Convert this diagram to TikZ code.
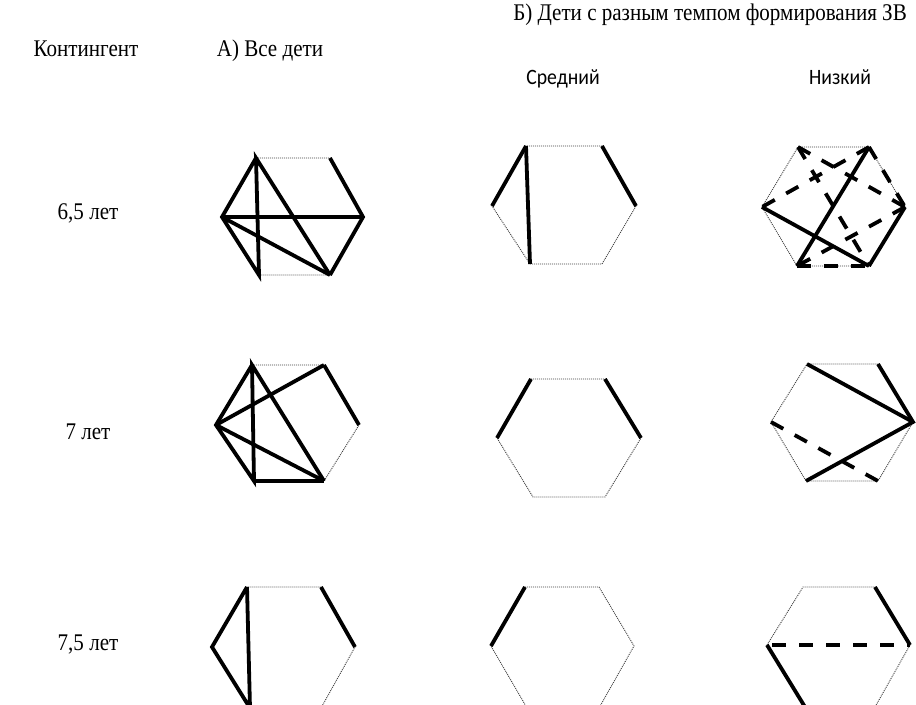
\documentclass[tikz,border=0pt]{standalone}
\usepackage{fontspec}
\setmainfont{Liberation Serif}
\newfontfamily\calib{Carlito}
\tikzset{
  edge/.style={line width=3.8bp, line cap=butt},
  dotedge/.style={line width=0.9bp, dash pattern=on 1bp off 1bp, black!75},
  dashedge/.style={line width=3.8bp, dash pattern=on 14bp off 13bp},
  lbl/.style={font=\fontsize{24}{28}\selectfont, inner sep=0pt, xscale=0.88},
  sublbl/.style={font=\calib\fontsize{22}{26}\selectfont, inner sep=0pt, xscale=0.9},
}
\newcommand\defhex[9]{%
  \coordinate (#1L) at (#2,#7);
  \coordinate (#1TL) at (#3,#6);
  \coordinate (#1TR) at (#4,#6);
  \coordinate (#1R) at (#5,#7);
  \coordinate (#1BR) at (#4,#8);
  \coordinate (#1BL) at ({#3+#9},#8);
  \draw[dotedge] (#1L) -- (#1TL) -- (#1TR) -- (#1R) -- (#1BR) -- (#1BL) -- cycle;
}
\begin{document}
\begin{tikzpicture}[x=1bp,y=-1bp]
\useasboundingbox (0,0) rectangle (916,705);
\clip (0,0) rectangle (916,705);
\fill[white] (0,0) rectangle (916,705);

% headers
\node[lbl, anchor=base] (hcont) at (86,57) {Контингент};
\node[lbl, anchor=base] (hall) at (270,57) {А) Все дети};
\node[lbl, anchor=base east] (hgrp) at (907,21) {Б) Дети с разным темпом формирования ЗВ};
\node[sublbl, anchor=base] (hmid) at (563,85) {Средний};
\node[sublbl, anchor=base] (hlow) at (840,85) {Низкий};
\node[lbl, anchor=base] (r1) at (88,219) {6,5 лет};
\node[lbl, anchor=base] (r2) at (88,439) {7 лет};
\node[lbl, anchor=base] (r3) at (88,650) {7,5 лет};

% hexagon vertices
\defhex{a1}{222}{256}{330}{363}{158}{217}{275}{3}
\defhex{b1}{492}{526}{602}{636}{146}{206}{264}{4}
\defhex{c1}{762}{798}{869}{905}{147}{207}{266}{-1}
\defhex{a2}{216}{252}{324}{359}{365}{425}{481}{2}
\defhex{b2}{497}{531}{605}{641}{379}{438}{497}{2}
\defhex{c2}{771}{807}{878}{913}{364}{422}{481}{-1}
\defhex{a3}{212}{247}{321}{355}{587}{647}{708}{3}
\defhex{b3}{491}{525}{599}{634}{587}{646}{708}{2}
\defhex{c3}{767}{803}{875}{910}{587}{645}{707}{2}

% row 1
\draw[edge] (a1TL) -- (a1L) -- (a1BL) -- (a1TL) -- (a1BR);
\draw[edge] (a1L) -- (a1R);
\draw[edge] (a1L) -- (a1BR);
\draw[edge] (a1TR) -- (a1R) -- (a1BR);

\draw[edge] (b1L) -- (b1TL);
\draw[edge] (b1TR) -- (b1R);
\draw[edge] (b1TL) -- (b1BL);

\draw[edge] (c1L) -- (c1BR);
\draw[edge] (c1BL) -- (c1TR);
\draw[edge] (c1BR) -- (c1R);
\draw[dashedge] (c1TL) -- (c1R);
\draw[dashedge] (c1TL) -- (c1BR);
\draw[dashedge] (c1TR) -- (c1L);
\draw[dashedge] (c1TR) -- (c1R);
\draw[dashedge] (c1R) -- (c1BL);
\draw[dashedge] (c1BL) -- (c1BR);

% row 2
\draw[edge] (a2TL) -- (a2L) -- (a2BL) -- (a2TL) -- (a2BR);
\draw[edge] (a2L) -- (a2TR);
\draw[edge] (a2L) -- (a2BR);
\draw[edge] (a2BL) -- (a2BR);
\draw[edge] (a2TR) -- (a2R);

\draw[edge] (b2L) -- (b2TL);
\draw[edge] (b2TR) -- (b2R);

\draw[edge] (c2TL) -- (c2R);
\draw[edge] (c2TR) -- (c2R) -- (c2BL);
\draw[dashedge] (c2L) -- (c2BR);

% row 3
\draw[edge] (a3TL) -- (a3L) -- (a3BL) -- (a3TL);
\draw[edge] (a3TR) -- (a3R);

\draw[edge] (b3L) -- (b3TL);

\draw[edge] (c3TR) -- (c3R);
\draw[edge] (c3L) -- (c3BL);
\draw[dashedge, dash phase=22bp] (c3L) -- (c3R);
\end{tikzpicture}
\end{document}
